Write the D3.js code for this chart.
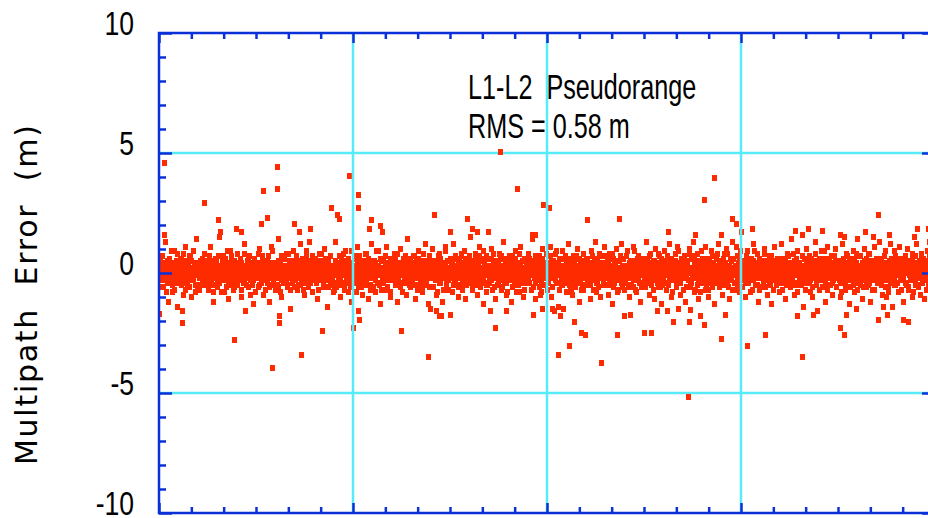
<!DOCTYPE html>
<html>
<head>
<meta charset="UTF-8">
<title>L1-L2 Pseudorange multipath</title>
<style>
  body { margin: 0; background: #ffffff; }
  svg { display: block; }
  .tick-label { font-family: 'Liberation Sans', Arial, sans-serif; font-size: 34px; fill: #000; }
  .note { font-family: 'Liberation Sans', Arial, sans-serif; font-size: 36px; fill: #000; white-space: pre; }
  .y-title { font-family: 'DejaVu Sans', Verdana, sans-serif; font-size: 30px; fill: #000; white-space: pre; }
</style>
</head>
<body>
<script src="https://cdn.jsdelivr.net/npm/d3@7"></script>
<script>
// one row of each array every 0.025 h; the three arrays interleave (30 s samples)
const sampleStep = 0.025;

// multipath error in metres, samples at 0 s of each 90 s slot
const mpErrA = [
  0.1,-0.2,0.3,0.0,-0.6,0.2,-0.1,1.3,0.0,-0.3,0.2,-1.2,0.4,-0.2,0.1,0.3,-0.8,0.2,-0.1,0.9,-0.3,0.1,-1.4,0.0,
  0.2,-0.4,0.1,0.6,-0.2,0.0,-0.9,0.3,1.1,-0.1,0.2,-0.5,0.3,-0.2,0.7,0.1,-1.0,0.2,-0.3,0.0,0.4,-0.1,1.4,-0.6,
  0.1,0.3,-0.2,0.2,-0.1,0.4,0.0,-0.2,0.8,-0.4,0.2,0.1,-0.7,0.5,-0.1,1.1,-0.3,0.2,0.0,-1.2,0.3,-0.1,0.6,0.2,
  -0.5,0.1,1.5,-0.1,0.2,-0.3,0.0,0.7,-0.8,0.1,0.4,-0.2,0.1,-1.1,0.3,0.0,0.9,-0.4,0.2,-0.1,0.5,-0.6,0.2,0.0,
  -0.2,0.8,-0.3,0.0,0.2,-1.0,0.4,0.1,-0.2,1.2,-0.1,0.3,-0.5,0.1,0.6,-0.2,0.0,-0.9,0.3,0.1,-1.3,0.5,-0.2,0.1,
  0.4,-0.1,0.2,-0.6,1.0,0.0,-0.3,0.2,0.7,-0.9,0.1,-0.2,0.3,0.5,-0.4,0.1,-1.2,0.0,1.1,-0.2,0.2,-0.1,0.4,-0.7,
  0.2,0.0,-0.5,1.4,-0.1,0.3,0.1,-1.0,0.2,-0.3,0.6,0.0,-0.2,0.8,-0.6,0.1,0.3,-0.1,-1.5,0.4,0.1,-0.2,0.9,0.0,
  -0.3,0.2,0.1,-0.7,0.5,-0.2,1.2,0.0,-0.4,0.1,0.3,-0.9,0.1,-0.2,0.7,0.2,-0.5,0.0,1.3,-0.1,0.4,-0.8,0.2,-0.1,
  0.6,-0.2,0.0,0.3,-1.1,0.1,0.8,-0.3,0.2,-0.1,0.5,-0.6,1.0,0.0,-0.2,0.2,-1.4,0.4,0.1,-0.4,0.7,0.1,-0.2,0.0,
  0.2,-0.7,1.3,0.1,-0.1,0.4,-0.3,0.0,-1.0,0.6,0.2,-0.1,0.3,-0.5,0.9,-0.2,0.1,0.5,-0.8,0.2,0.0,-1.2,0.4,-0.1,
  0.1,0.7,-0.4,0.2,-0.1,1.1,-0.6,0.0,0.3,-0.2,0.2,-0.9,0.5,0.1,-0.3,0.8,-0.1,0.2,-1.1,0.0,0.4,-0.5,1.2,0.2,
  -0.2,0.0,0.5,-0.8,0.2,0.3,-0.1,0.9,-0.4,0.2,-1.3,0.1,0.6,-0.2,0.0,0.4,-0.7,1.1,0.1,-0.3,0.2,-0.1,-1.0,0.5,
  0.0,0.3,-0.2,0.8,-0.5,0.1,0.2,-1.2,0.4,-0.1,1.0,0.2,-0.4,0.0,0.6,-0.2,0.3,-0.9,0.1,1.4,-0.1,0.2,-0.6,0.0,
  0.4,-0.3,0.2,-0.1,0.7,-1.1,0.2,0.0,-0.5,0.9,0.1,-0.2,0.5,-0.8,0.2,0.3,-0.1,1.2,-0.4,0.0,0.2,-1.3,0.6,-0.2,
  0.1,-0.6,1.0,0.2,-0.2,0.0,0.5,-0.9,0.3,-0.2,0.8,0.1,-0.4,0.2,-1.2,0.4,0.0,-0.1,1.1,-0.3,0.2,-0.7,0.1,0.5,
  -0.2,0.3,-0.8,0.0,1.2,-0.2,0.2,0.6,-0.5,0.1,-1.0,0.4,0.2,-0.1,0.7,-0.3,0.0,0.9,-1.1,0.2,0.5,-0.2,0.3,-0.4,
  0.2,1.5,-0.1,-0.6,0.3,0.0,-0.2,0.8,0.1,-0.9,0.4,-0.2,1.1,0.2,-0.4,0.0,0.6,-1.3,0.2,-0.1,0.3,0.7,-0.5,0.1,
  -0.3,0.2,0.0,1.0,-0.7,0.2,0.4,-0.2,-1.1,0.5,0.1,0.3,-0.2,0.8,-0.1,0.0,-0.6,1.3,0.2,-0.4,0.2,-0.9,0.4,0.0,
  0.5,-0.2,0.2,-1.2,0.1,0.7,-0.3,0.0,0.9,-0.5,0.2,-0.1,0.4,-0.8,0.3,1.1,-0.2,0.1,-1.0,0.6,0.0,-0.2,0.2,-0.4,
  0.0,0.8,-0.4,0.2,-0.1,1.4,0.2,-0.6,0.1,-1.1,0.5,0.0,-0.2,0.3,0.7,-0.9,0.2,-0.3,1.0,0.0,-0.5,0.2,-0.1,0.4,
  -0.7,0.1,0.3,-0.2,1.1,-1.0,0.0,0.5,-0.2,0.2,0.8,-0.4,0.2,-1.4,0.1,0.6,-0.1,0.3,-0.5,0.9,0.2,-0.2,0.0,-0.8,
  0.2,-0.3,1.2,0.0,-0.6,0.4,0.1,-0.9,0.7,-0.2,0.3,0.2,-0.4,1.0,-0.1,0.0,-1.2,0.5,0.2,-0.2,0.8,-0.7,0.1,0.3,
  -0.1,0.6,-0.5,0.2,0.0,-1.1,0.9,0.2,-0.3,0.4,-0.2,1.3,-0.8,0.1,0.5,-0.2,0.2,-1.0,0.3,0.0,0.7,-0.4,-0.1,1.1,
  0.2,-0.2,0.4,-0.9,0.1,0.8,-0.5,0.0,0.2,-1.3,0.6,-0.1,0.3,1.0,-0.3,0.2,-0.7,0.5,0.0,-0.2,1.2,-0.6,0.2,0.1,
  -0.4,0.3,0.0,0.9,-0.2,0.2,-1.0,0.5,0.1,-0.2,1.1,-0.6,0.2,0.0,-0.8,0.4,0.7,-0.3,0.2,-1.2,0.1,0.6,-0.1,0.3,
  0.0,-0.5,1.3,0.2,-0.2,0.4,-0.9,0.1,0.8,-0.3,0.2,0.5,-1.1,0.0,1.0,-0.2,0.3,-0.6,0.2,0.7,-0.1,-1.3,0.4,0.2,
  -0.2,0.9,0.1,-0.7,0.3,0.0,-0.4,1.2,-0.2,0.5,-1.0,0.2,0.2,-0.1,0.8,-0.5,0.0,1.1,-0.3,0.4,-0.9,0.1,0.6,-0.2,
  0.3,-0.1,0.7,-1.2,0.2,0.5,-0.3,0.0,1.0,-0.6,0.2,-0.2,1.3,0.1,-0.8,0.4,-0.2,0.2,0.8,-1.1,0.0,0.5,-0.4,0.9,
  0.1,-0.3,0.2,1.1,-0.7,0.0,0.4,-1.0,0.6,-0.2,0.2,0.9,-0.5,0.3,-0.1,-1.3,0.7,0.2,-0.2,1.2,0.0,-0.6,0.5,-0.2,
  0.4,-0.9,0.2,0.8,-0.4,0.1,1.0,-0.2,0.3,-1.1,0.0,0.6,-0.3,1.3,0.2,-0.7,0.2,-0.1,1.1,-0.5,0.0,0.4,-0.8,0.9,
  0.0,0.2,-0.3,0.5,-0.1,-1.0,0.3,0.1,0.9,-0.4,0.2,-0.2,0.6,-0.7,0.1,1.2,-0.1,0.3,-0.5,0.0,0.8,-1.2,0.2,0.1,
  -0.1,0.4,-0.6,0.2,1.0,-0.2,0.0,0.5,-0.9,0.3,-0.1,0.7,0.1,-1.3,0.2,0.4,-0.3,1.1,0.0,-0.5,0.2,0.6,-0.2,-0.8,
  0.3,0.0,1.2,-0.4,0.2,-0.1,0.6,-1.1,0.1,0.8,-0.3,0.2,0.0,-0.6,1.4,-0.2,0.3,-0.9,0.5,0.1,-0.1,0.9,-0.4,0.2,
  -0.5,0.2,0.1,-0.2,0.7,-1.4,0.3,0.0,1.0,-0.3,0.4,-0.1,0.2,-0.8,0.6,0.1,-1.0,0.3,-0.2,1.3,0.0,-0.4,0.5,0.1,
  0.2,-0.7,0.4,0.9,-0.1,0.0,-0.3,0.6,-1.2,0.2,0.1,1.1,-0.5,0.3,-0.2,0.7,0.0,-0.9,0.4,-0.1,1.0,0.2,-0.6,0.3,
  0.0,0.5,-0.2,-1.0,0.3,1.2,-0.4,0.1,0.2,-0.7,0.8,0.0,-0.1,0.4,-1.3,0.2,0.6,-0.3,0.1,0.9,-0.8,0.2,-0.2,1.4,
  -0.3,0.1,0.7,-0.5,0.2,0.0,-1.1,0.4,1.0,-0.2,0.3,-0.6,0.1,0.8,-0.4,0.2,-1.2,0.5,0.0,-0.1,1.1,-0.7,0.3,0.2,
  0.1,-0.4,0.3,1.3,-0.2,0.6,-0.9,0.0,0.2,-0.3,0.9,-1.0,0.4,0.1,-0.6,0.2,1.2,-0.2,0.3,-1.4,0.5,0.0,0.7,-0.5,
  0.4,0.0,-0.8,0.2,1.1,-0.3,0.1,-0.1,0.6,-1.2,0.3,0.2,-0.4,1.0,0.0,-0.7,0.5,0.2,-0.2,0.8,-1.0,0.1,0.3,-0.3,
  0.2,1.2,-0.5,0.0,0.4,-0.9,0.2,0.7,-0.2,0.1,-1.1,0.5,0.3,-0.1,0.9,-0.6,0.0,1.3,-0.3,0.2,-0.8,0.4,1.0,-0.4
];

// multipath error in metres, samples at 30 s of each slot
const mpErrB = [
  0.3,-0.1,0.0,0.2,-0.3,0.4,0.1,-0.2,0.0,0.5,-0.4,0.2,0.1,-0.1,0.3,0.0,-0.3,0.2,0.4,-0.2,0.1,0.0,-0.4,0.3,
  -0.1,0.2,0.4,-0.3,0.0,0.1,0.5,-0.2,0.2,-0.4,0.0,0.3,-0.1,0.6,0.1,-0.3,0.2,0.0,-0.2,0.4,-0.5,0.1,0.3,-0.1,
  0.2,0.0,-0.2,0.4,0.1,-0.4,0.3,0.0,-0.1,0.2,0.5,-0.3,0.1,0.0,-0.2,0.3,0.1,-0.5,0.2,0.4,-0.1,0.0,0.3,-0.3,
  0.0,0.3,-0.4,0.1,0.2,-0.1,0.4,-0.3,0.0,0.6,-0.2,0.1,0.3,-0.4,0.0,0.2,-0.1,0.5,-0.3,0.1,0.2,-0.2,0.0,0.4,
  0.1,-0.3,0.2,0.0,0.5,-0.2,0.1,0.3,-0.4,0.0,0.2,-0.1,0.4,0.1,-0.6,0.3,0.0,-0.2,0.2,0.1,-0.3,0.4,0.0,-0.1,
  0.4,0.0,-0.2,0.3,-0.1,0.1,-0.4,0.2,0.5,-0.3,0.0,0.2,-0.1,0.3,0.1,-0.2,0.4,0.0,-0.5,0.2,0.1,-0.3,0.3,0.0,
  -0.2,0.1,0.3,-0.1,0.0,0.4,-0.3,0.2,0.1,-0.2,0.6,0.0,-0.4,0.2,0.3,-0.1,0.0,0.5,-0.2,0.1,-0.4,0.3,0.2,-0.1,
  0.3,-0.2,0.1,0.0,-0.5,0.2,0.4,-0.1,0.0,0.3,-0.3,0.1,0.2,-0.2,0.5,0.0,-0.1,0.3,-0.4,0.2,0.0,0.4,-0.2,0.1,
  0.0,0.2,-0.3,0.5,0.1,-0.1,0.0,0.3,-0.2,0.4,0.1,-0.4,0.2,0.0,-0.1,0.6,-0.3,0.1,0.2,-0.2,0.3,0.0,-0.5,0.2,
  0.2,-0.4,0.1,0.3,0.0,-0.2,0.4,0.1,-0.3,0.0,0.2,0.5,-0.1,0.1,-0.4,0.3,0.0,-0.2,0.4,0.1,-0.1,0.2,0.0,-0.3,
  -0.1,0.3,0.0,-0.3,0.2,0.1,-0.2,0.5,0.0,0.2,-0.4,0.1,0.3,-0.1,0.0,0.4,-0.2,0.2,-0.5,0.1,0.3,0.0,-0.2,0.4,
  0.2,0.0,0.4,-0.2,0.1,-0.4,0.3,0.0,0.2,-0.1,0.5,-0.3,0.0,0.2,0.1,-0.2,0.4,-0.1,0.0,0.3,-0.3,0.1,0.6,-0.2,
  0.1,-0.2,0.3,0.0,0.4,-0.1,0.2,-0.3,0.1,0.0,-0.5,0.3,0.2,-0.1,0.4,0.0,-0.3,0.1,0.2,-0.2,0.5,0.0,-0.1,0.3,
  -0.3,0.2,0.0,0.1,-0.1,0.5,-0.2,0.3,0.0,0.2,-0.4,0.1,0.4,0.0,-0.2,0.3,0.1,-0.3,0.0,0.4,-0.1,0.2,-0.6,0.1,
  0.4,0.1,-0.1,0.2,0.0,-0.3,0.3,0.1,-0.2,0.5,0.0,-0.4,0.2,0.1,-0.1,0.3,-0.2,0.0,0.4,-0.3,0.1,0.2,0.0,-0.1,
  0.0,-0.2,0.5,0.1,-0.3,0.2,0.0,0.3,-0.1,0.1,0.4,-0.2,0.0,-0.5,0.2,0.1,0.3,-0.1,0.0,0.2,-0.4,0.5,0.1,-0.2,
  0.2,0.3,-0.1,0.0,0.4,-0.4,0.1,0.2,-0.2,0.0,0.3,0.1,-0.3,0.5,0.0,-0.1,0.2,-0.2,0.4,0.1,-0.5,0.0,0.3,0.1,
  -0.1,0.0,0.2,-0.3,0.1,0.4,-0.2,0.0,0.3,0.2,-0.1,-0.4,0.1,0.0,0.6,-0.2,0.2,0.1,-0.3,0.0,0.4,-0.1,0.2,-0.2,
  0.3,-0.1,0.1,0.4,-0.2,0.0,0.2,-0.5,0.3,0.1,0.0,0.2,-0.3,0.4,-0.1,0.1,0.0,-0.2,0.5,0.2,-0.4,0.1,0.0,0.3,
  0.0,0.2,-0.4,0.1,0.3,-0.1,0.0,0.4,-0.2,0.1,-0.3,0.5,0.2,0.0,-0.1,0.3,-0.5,0.1,0.2,-0.2,0.0,0.4,-0.1,0.2,
  0.1,-0.3,0.2,0.0,-0.1,0.5,0.3,-0.2,0.0,0.4,0.1,-0.4,0.2,-0.1,0.3,0.0,0.1,-0.3,0.6,-0.2,0.1,0.2,-0.1,0.0,
  0.4,0.0,-0.2,0.3,0.1,-0.1,0.2,-0.4,0.5,0.0,-0.2,0.1,0.3,-0.3,0.0,0.2,0.4,-0.1,0.1,-0.5,0.2,0.0,0.3,-0.2,
  -0.2,0.1,0.3,-0.1,0.0,0.2,-0.3,0.4,0.1,-0.2,0.5,0.0,-0.1,0.2,-0.4,0.3,0.0,0.1,-0.2,0.4,0.2,-0.3,0.0,0.1,
  0.2,-0.1,0.0,0.5,-0.3,0.1,0.2,-0.2,0.0,0.3,-0.4,0.4,0.1,0.0,-0.1,0.2,-0.3,0.5,0.0,0.1,-0.2,0.3,-0.1,0.0,
  0.1,0.3,-0.2,0.0,0.2,-0.5,0.1,0.4,-0.1,0.0,0.3,-0.3,0.2,0.1,-0.2,0.0,0.5,-0.1,0.3,-0.4,0.1,0.0,0.2,-0.1,
  -0.3,0.0,0.4,0.1,-0.1,0.2,0.0,-0.4,0.3,0.2,-0.2,0.1,0.5,-0.1,0.0,-0.3,0.2,0.4,-0.2,0.1,0.0,0.3,-0.5,0.2,
  0.3,0.1,-0.1,0.2,-0.4,0.0,0.5,-0.2,0.1,0.3,0.0,-0.3,0.2,-0.1,0.4,0.1,-0.2,0.0,0.3,-0.4,0.2,0.1,-0.1,0.6,
  0.0,-0.2,0.2,0.3,-0.1,0.4,-0.3,0.1,0.0,-0.5,0.2,0.1,-0.2,0.4,0.0,0.3,-0.1,0.2,-0.3,0.0,0.5,-0.2,0.1,0.2,
  0.2,0.0,-0.3,0.1,0.5,-0.1,0.2,0.0,-0.4,0.3,0.1,-0.2,0.0,0.4,-0.3,0.2,0.1,-0.1,0.3,0.0,-0.2,0.4,-0.4,0.1,
  -0.1,0.4,0.1,-0.2,0.0,0.3,-0.5,0.2,0.1,0.0,-0.3,0.5,0.2,-0.1,0.1,-0.4,0.3,0.0,0.2,-0.2,0.4,0.1,0.0,-0.3,
  0.3,-0.2,0.0,0.2,0.1,-0.4,0.4,0.0,-0.1,0.2,0.3,-0.3,0.1,0.0,0.5,-0.2,0.2,-0.1,0.0,0.4,-0.5,0.2,0.1,0.0,
  0.1,0.2,-0.1,-0.3,0.4,0.0,0.2,-0.2,0.3,0.1,-0.4,0.0,0.2,0.5,-0.1,0.1,-0.3,0.3,0.0,-0.2,0.2,0.4,-0.1,0.1,
  -0.2,0.0,0.3,0.1,-0.1,0.5,-0.3,0.2,0.0,0.1,-0.2,0.4,-0.4,0.2,0.1,0.0,0.3,-0.1,-0.5,0.2,0.0,0.4,0.1,-0.2,
  0.4,0.1,-0.2,0.0,0.3,-0.1,0.2,-0.4,0.1,0.5,0.0,-0.2,0.3,-0.3,0.0,0.2,0.1,-0.1,0.4,0.0,-0.3,0.2,-0.2,0.3,
  0.0,-0.3,0.2,0.4,-0.1,0.1,0.0,0.3,-0.2,-0.5,0.2,0.1,0.0,0.4,-0.1,0.3,-0.4,0.1,0.2,0.0,0.5,-0.2,0.1,-0.1,
  0.2,0.1,-0.4,0.3,0.0,-0.2,0.5,0.1,-0.1,0.2,0.0,-0.3,0.4,0.1,-0.2,0.0,0.2,0.3,-0.5,0.1,-0.1,0.0,0.4,-0.2,
  -0.1,0.3,0.0,0.2,-0.3,0.4,0.1,-0.1,0.0,0.3,-0.4,0.2,0.1,0.0,0.5,-0.2,0.0,-0.1,0.3,0.2,-0.3,0.1,0.0,0.4,
  0.3,0.0,0.1,-0.2,0.2,-0.5,0.4,0.0,0.1,-0.1,0.3,0.2,-0.3,0.0,-0.1,0.4,0.1,-0.4,0.2,0.0,0.3,-0.2,0.5,0.1,
  0.1,-0.1,0.4,0.0,-0.3,0.2,0.1,0.3,-0.2,0.0,0.5,-0.4,0.1,0.2,0.0,-0.1,0.3,-0.3,0.1,0.4,-0.2,0.0,0.2,-0.5,
  0.0,0.2,-0.2,0.3,0.1,-0.1,0.0,0.4,-0.4,0.2,0.1,0.0,0.3,-0.3,0.5,0.1,-0.1,0.2,0.0,-0.2,0.4,0.1,-0.3,0.2
];

// multipath error in metres, samples at 60 s of each slot
const mpErrC = [
  0.5,-0.3,0.1,0.7,-0.6,0.2,-0.1,0.4,-0.8,0.3,0.0,-0.4,0.6,-0.2,0.9,0.1,-0.5,0.3,-0.7,0.2,0.5,-0.1,0.8,-0.3,
  -0.2,0.6,0.0,-0.5,0.3,0.8,-0.4,0.1,-0.7,0.4,0.2,-0.3,0.7,-0.6,0.0,0.5,-0.2,0.9,-0.1,0.3,-0.8,0.4,0.1,-0.5,
  0.3,-0.7,0.5,0.0,-0.2,0.6,-0.5,0.8,0.2,-0.3,0.4,-0.1,-0.6,0.7,0.1,-0.4,0.3,0.5,-0.8,0.0,0.6,-0.2,0.4,-0.6,
  0.7,0.1,-0.4,0.3,-0.8,0.5,0.0,-0.3,0.6,0.2,-0.6,0.9,-0.1,0.4,-0.5,0.1,0.7,-0.2,0.3,-0.7,0.5,0.0,-0.4,0.2,
  -0.5,0.4,0.2,-0.1,0.6,-0.7,0.3,0.0,0.8,-0.4,0.1,-0.2,0.5,-0.6,0.3,0.7,-0.3,0.0,0.4,-0.5,0.2,0.6,-0.8,0.1,
  0.2,-0.2,0.8,-0.5,0.0,0.4,-0.3,0.6,-0.1,0.3,-0.7,0.5,0.1,-0.4,0.7,-0.6,0.2,0.0,-0.2,0.9,-0.3,0.4,0.1,-0.5,
  0.4,0.0,-0.6,0.5,0.2,-0.8,0.7,-0.1,0.3,-0.4,0.6,0.1,-0.3,0.2,-0.5,0.8,0.0,-0.7,0.4,0.3,-0.2,0.5,-0.6,0.1,
  -0.3,0.7,0.1,-0.2,0.5,0.3,-0.5,0.0,0.6,-0.7,0.2,0.4,-0.4,0.9,-0.1,0.1,-0.6,0.3,0.5,-0.3,0.7,-0.8,0.2,0.0,
  0.6,-0.4,0.3,0.1,-0.7,0.5,0.0,-0.2,0.8,0.2,-0.5,0.4,-0.1,0.6,-0.3,0.0,0.5,-0.6,0.2,0.7,-0.4,0.1,-0.8,0.3,
  0.0,0.5,-0.6,0.4,0.2,-0.3,0.7,-0.5,0.1,0.3,-0.1,0.8,-0.7,0.2,0.5,-0.2,0.0,0.6,-0.4,0.3,-0.6,0.9,0.1,-0.3,
  0.3,-0.1,0.6,-0.8,0.4,0.0,-0.4,0.7,0.2,-0.6,0.5,-0.2,0.1,0.3,-0.5,0.8,-0.3,0.2,0.6,-0.1,-0.7,0.4,0.0,0.5,
  -0.6,0.2,0.4,-0.3,0.9,-0.1,0.3,-0.5,0.0,0.6,-0.7,0.1,0.5,-0.4,0.2,0.7,-0.2,-0.6,0.4,0.0,0.3,-0.8,0.6,0.1,
  0.5,0.1,-0.3,0.6,-0.5,0.2,0.8,-0.2,0.4,-0.6,0.0,0.3,-0.8,0.5,0.1,-0.4,0.7,0.0,-0.3,0.4,0.2,-0.5,0.6,-0.1,
  0.2,-0.5,0.7,0.0,-0.2,0.4,-0.7,0.3,0.6,-0.1,0.5,-0.4,0.2,-0.6,0.8,0.1,-0.3,0.5,-0.5,0.3,0.0,0.7,-0.2,-0.6,
  -0.1,0.4,-0.6,0.3,0.5,-0.3,0.1,-0.8,0.7,0.2,-0.4,0.6,0.0,-0.2,0.4,-0.7,0.3,0.9,-0.5,0.1,0.5,-0.3,0.2,0.6,
  0.6,-0.2,0.1,-0.5,0.3,0.7,-0.4,0.2,0.0,-0.6,0.5,0.3,-0.1,0.8,-0.7,0.4,0.1,-0.3,0.6,-0.5,0.2,0.0,-0.4,0.7,
  0.1,0.5,-0.7,0.4,-0.1,0.2,0.6,-0.5,0.3,0.0,-0.3,0.7,-0.6,0.5,0.2,-0.2,0.9,-0.4,0.0,0.3,-0.8,0.6,0.1,-0.2,
  -0.4,0.3,0.6,-0.2,0.0,0.8,-0.6,0.4,0.1,-0.5,0.2,0.5,-0.3,0.0,0.7,-0.7,0.3,0.2,-0.1,0.6,-0.4,0.4,-0.8,0.1,
  0.7,0.0,-0.3,0.5,-0.6,0.1,0.4,-0.2,0.6,-0.8,0.3,0.1,-0.5,0.8,-0.1,0.2,-0.4,0.5,0.0,-0.7,0.6,0.3,-0.2,0.4,
  -0.2,0.6,0.2,-0.7,0.4,-0.1,0.5,0.0,-0.4,0.7,-0.3,0.3,0.1,-0.6,0.5,0.2,-0.8,0.6,0.4,-0.2,0.0,-0.5,0.8,0.1,
  0.4,-0.4,0.0,0.7,-0.2,0.3,-0.6,0.5,0.1,-0.3,0.9,-0.1,0.2,0.4,-0.7,0.0,0.6,-0.5,0.3,0.1,-0.2,0.7,-0.4,0.5,
  0.0,0.3,-0.5,0.2,0.6,-0.8,0.4,0.1,-0.2,0.5,-0.6,0.7,0.0,-0.3,0.3,0.6,-0.4,0.1,-0.7,0.4,0.2,-0.1,0.5,-0.5,
  0.6,-0.3,0.2,0.4,-0.5,0.1,0.0,0.7,-0.7,0.3,0.5,-0.2,-0.4,0.6,0.1,-0.6,0.8,0.2,-0.1,0.3,-0.5,0.4,0.0,0.7,
  -0.5,0.1,0.5,-0.1,0.3,0.6,-0.4,0.2,0.8,-0.6,0.0,0.4,-0.3,0.1,-0.8,0.5,0.2,-0.2,0.7,-0.4,0.3,0.6,-0.7,0.0,
  0.3,0.7,-0.2,0.0,-0.6,0.4,0.2,-0.5,0.5,0.1,-0.3,0.9,-0.7,0.3,0.0,0.6,-0.1,-0.4,0.2,0.5,-0.6,0.1,0.4,-0.2,
  0.1,-0.6,0.4,0.6,-0.3,0.0,0.7,-0.1,-0.5,0.3,0.2,-0.7,0.5,0.0,0.4,-0.4,0.1,0.8,-0.2,-0.6,0.6,0.3,-0.3,0.2,
  0.5,0.2,-0.4,0.1,0.7,-0.5,0.3,0.0,-0.2,0.6,-0.8,0.4,0.2,-0.1,0.5,-0.6,0.3,-0.3,0.9,0.0,-0.4,0.2,0.6,-0.7,
  -0.1,0.4,0.0,-0.6,0.5,0.2,-0.3,0.8,0.1,-0.4,0.6,-0.2,0.0,0.7,-0.7,0.3,0.5,-0.5,0.1,0.4,-0.1,-0.8,0.3,0.6,
  0.4,-0.2,0.6,0.3,-0.5,0.1,-0.7,0.5,0.0,0.2,-0.3,0.7,-0.6,0.4,0.1,-0.1,0.6,-0.4,0.8,-0.2,0.3,0.0,-0.5,0.2,
  0.2,0.6,-0.5,0.0,0.4,-0.3,0.8,-0.6,0.3,0.1,-0.2,0.5,-0.7,0.2,0.6,0.0,-0.4,0.3,-0.1,0.7,-0.6,0.5,0.1,-0.3,
  -0.6,0.3,0.1,0.5,-0.2,0.7,-0.4,0.0,0.6,-0.1,0.4,-0.8,0.2,0.5,-0.3,0.1,0.9,-0.5,0.3,0.0,-0.2,0.6,-0.7,0.4,
  0.5,-0.1,-0.4,0.3,0.8,-0.6,0.2,0.4,-0.3,0.0,0.6,-0.5,0.1,0.7,-0.2,-0.7,0.4,0.2,-0.1,0.5,0.0,-0.4,0.3,0.6,
  0.0,0.4,-0.7,0.6,0.2,-0.2,0.5,-0.5,0.3,0.7,-0.1,0.1,-0.6,0.4,0.0,-0.3,0.8,0.2,-0.4,0.6,-0.8,0.3,0.1,-0.1,
  0.3,-0.5,0.2,0.0,-0.3,0.6,0.1,-0.7,0.5,-0.2,0.4,0.7,-0.4,0.0,0.3,-0.6,0.5,-0.1,0.2,0.8,-0.5,0.1,-0.3,0.4,
  0.6,0.1,-0.2,0.4,-0.6,0.3,0.9,-0.4,0.0,0.5,-0.7,0.2,0.6,-0.1,-0.5,0.3,0.1,-0.3,0.7,-0.2,0.4,-0.6,0.0,0.5,
  -0.3,0.5,0.3,-0.8,0.1,0.6,-0.1,0.4,-0.5,0.2,0.0,0.7,-0.3,0.5,-0.6,0.2,0.4,-0.2,0.0,0.6,-0.4,0.8,0.1,-0.7,
  0.2,-0.4,0.7,0.1,-0.1,0.3,-0.6,0.5,0.2,-0.3,0.6,0.0,-0.5,0.4,0.8,-0.2,0.1,-0.7,0.5,0.3,-0.1,0.0,0.6,-0.4,
  0.5,0.0,-0.3,0.6,0.3,-0.5,0.1,-0.2,0.7,-0.6,0.4,0.2,-0.1,-0.8,0.5,0.3,-0.4,0.6,0.0,-0.3,0.9,-0.5,0.2,0.1,
  -0.4,0.6,0.2,-0.1,0.5,-0.7,0.3,0.4,-0.2,0.0,0.7,-0.5,0.1,0.3,-0.6,0.5,0.0,0.2,-0.3,0.6,-0.8,0.4,0.1,0.7,
  0.1,0.3,-0.6,0.5,0.0,-0.2,0.8,-0.4,0.2,0.6,-0.3,0.1,-0.7,0.4,0.2,-0.5,0.7,0.0,-0.1,0.3,-0.6,0.5,-0.2,0.4
];

// isolated large errors: [hour, metres]
const mpSpikes = [
  [0.15,4.6],[3.65,4.4],[3.65,3.5],[3.22,3.4],[1.38,2.9],[1.81,2.2],[3.34,2.3],[3.15,2.05],[4.17,2.05],
  [4.66,1.85],[1.88,1.7],[2.37,1.85],[2.53,1.7],[4.33,1.7],[0.15,1.6],
  [0.70,-1.6],[0.70,-2.1],[0.0,-1.7],[2.66,-1.6],[3.71,-1.8],[3.71,-2.1],[2.31,-2.8],[4.39,-3.4],[3.49,-3.95],
  [5.87,4.05],[6.15,3.25],[6.15,2.7],[5.32,2.7],[5.5,2.4],[5.57,2.25],[6.56,2.2],[6.5,1.85],[6.84,1.95],
  [6.9,1.7],[8.5,2.4],[9.52,2.25],[9.0,1.7],
  [6.15,-1.6],[6.2,-1.95],[5.99,-2.3],[5.04,-2.4],[7.47,-2.4],[8.31,-3.5],[8.39,-1.5],[8.57,-1.6],
  [8.66,-1.8],[8.72,-1.8],[9.0,-1.75],
  [10.54,5.05],[11.06,3.5],[11.88,2.85],[12.06,2.7],[13.24,2.2],[14.23,2.25],[9.68,1.85],[9.84,1.7],
  [10.18,1.7],[11.55,1.6],[11.63,1.6],
  [10.39,-2.3],[10.23,-1.6],[10.72,-1.6],[11.57,-1.75],[11.84,-1.5],[12.16,-1.5],[12.22,-1.6],[12.40,-1.8],
  [12.49,-1.5],[12.84,-2.05],[13.06,-2.5],[13.18,-2.6],[12.68,-3.05],[12.34,-3.4],[13.67,-3.75],[14.17,-2.6],
  [17.17,3.95],[16.86,3.05],[17.72,2.25],[17.85,2.05],[18.0,1.7],[18.34,1.85],[15.74,1.7],[16.58,1.6],[17.38,1.6],
  [16.36,-5.15],[18.18,-3.05],[17.38,-2.75],[18.74,-2.6],[14.99,-2.5],[15.22,-2.5],[15.89,-2.05],[16.38,-2.05],
  [16.85,-2.15],[14.38,-1.8],[14.57,-1.75],[15.40,-1.6],[15.71,-1.6],[16.05,-1.5],[16.42,-1.55],[16.73,-1.8],
  [17.50,-1.75],
  [22.24,2.4],[23.45,1.85],[23.79,1.85],[23.35,1.5],[19.68,1.75],[20.08,1.85],[20.51,1.75],[21.06,1.6],
  [21.19,1.5],[21.84,1.7],[22.08,1.5],[22.58,1.6],[19.89,1.6],
  [19.89,-3.5],[21.06,-2.3],[21.19,-2.6],[19.73,-1.8],[20.23,-1.75],[20.35,-1.6],[21.25,-1.75],[21.56,-1.5],
  [22.23,-1.95],[22.39,-1.4],[22.51,-1.75],[23.01,-1.95],[23.17,-2.05]
];

// ticks
const yMajorTicks = [-10, -5, 0, 5, 10];
const yMinorTicks = [-9,-8,-7,-6,-4,-3,-2,-1,1,2,3,4,6,7,8,9];
const yGridTicks = [-5, 0, 5];
const xMajorTicks = [0, 6, 12, 18, 24];
const xMinorTicks = [1,2,3,4,5,7,8,9,10,11,13,14,15,16,17,19,20,21,22,23];
const xGridTicks = [6, 12, 18];

const noteLines = ['L1-L2  Pseudorange', 'RMS = 0.58 m'];
const yTitle = 'Multipath  Error  (m)';

const W = 928, H = 518;
const plot = { left: 159, right: 935, top: 33, bottom: 513 };
const blue = '#0a30d8', cyan = '#58ecfa', red = '#ff2b00';

const svg = d3.select('body').append('svg')
    .attr('width', W)
    .attr('height', H);

const x = d3.scaleLinear().domain([0, 24]).range([plot.left, plot.right]);
const y = d3.scaleLinear().domain([-10, 10]).range([plot.bottom, plot.top]);

svg.append('clipPath').attr('id', 'plotClip')
  .append('rect')
    .attr('x', plot.left).attr('y', plot.top)
    .attr('width', plot.right - plot.left).attr('height', plot.bottom - plot.top);

// horizontal grid lines sit under the points
svg.append('g').attr('stroke', cyan).attr('stroke-width', 2.5)
  .selectAll('line').data(yGridTicks).join('line')
    .attr('x1', plot.left).attr('x2', plot.right)
    .attr('y1', d => y(d)).attr('y2', d => y(d));

// points
const pts = mpErrA.map((v, i) => [i * sampleStep, v])
  .concat(mpErrB.map((v, i) => [(i + 1 / 3) * sampleStep, v]))
  .concat(mpErrC.map((v, i) => [(i + 2 / 3) * sampleStep, v]))
  .concat(mpSpikes);
svg.append('g')
    .attr('clip-path', 'url(#plotClip)')
  .selectAll('rect')
  .data(pts)
  .join('rect')
    .attr('x', d => Math.round(x(d[0]) - 2))
    .attr('y', d => Math.round(y(d[1]) - 3))
    .attr('width', 5)
    .attr('height', 6)
    .attr('fill', red)
    .attr('shape-rendering', 'crispEdges');

// vertical grid lines are drawn over the points
svg.append('g').attr('stroke', cyan).attr('stroke-width', 2.5)
  .selectAll('line').data(xGridTicks).join('line')
    .attr('x1', d => x(d)).attr('x2', d => x(d))
    .attr('y1', plot.top).attr('y2', plot.bottom);

// inward ticks on all four sides via d3 axes
function addAxis(axis, tx, ty) {
  const g = svg.append('g')
      .attr('transform', `translate(${tx},${ty})`)
      .call(axis);
  g.select('.domain').remove();
  g.selectAll('line').attr('stroke', blue).attr('stroke-width', 2.5);
  return g;
}
addAxis(d3.axisLeft(y).tickValues(yMinorTicks).tickSize(-7).tickFormat(''), plot.left, 0);
addAxis(d3.axisLeft(y).tickValues(yMajorTicks).tickSize(-13).tickFormat(''), plot.left, 0);
addAxis(d3.axisRight(y).tickValues(yMinorTicks).tickSize(-7).tickFormat(''), plot.right, 0);
addAxis(d3.axisRight(y).tickValues(yMajorTicks).tickSize(-13).tickFormat(''), plot.right, 0);
addAxis(d3.axisTop(x).tickValues(xMinorTicks).tickSize(-6).tickFormat(''), 0, plot.top);
addAxis(d3.axisTop(x).tickValues(xMajorTicks).tickSize(-10).tickFormat(''), 0, plot.top);
addAxis(d3.axisBottom(x).tickValues(xMinorTicks).tickSize(-6).tickFormat(''), 0, plot.bottom);
addAxis(d3.axisBottom(x).tickValues(xMajorTicks).tickSize(-10).tickFormat(''), 0, plot.bottom);

// frame
svg.append('rect')
    .attr('x', plot.left).attr('y', plot.top)
    .attr('width', plot.right - plot.left).attr('height', plot.bottom - plot.top)
    .attr('fill', 'none')
    .attr('stroke', blue)
    .attr('stroke-width', 2.5);

// y tick labels (condensed face)
svg.append('g').selectAll('text')
  .data(yMajorTicks)
  .join('text')
    .attr('class', 'tick-label')
    .attr('text-anchor', 'end')
    .attr('transform', d => `translate(134,${y(d) + 2}) scale(0.78,1)`)
    .text(d => d);

// annotation
svg.append('g').selectAll('text')
  .data(noteLines)
  .join('text')
    .attr('class', 'note')
    .attr('transform', (d, i) => `translate(468,${99 + i * 39}) scale(0.7,1)`)
    .text(d => d);

// y axis title
svg.append('text')
    .attr('class', 'y-title')
    .attr('text-anchor', 'middle')
    .attr('transform', 'translate(37,295) rotate(-90)')
    .attr('textLength', 340)
    .attr('lengthAdjust', 'spacing')
    .text(yTitle);
</script>
</body>
</html>
